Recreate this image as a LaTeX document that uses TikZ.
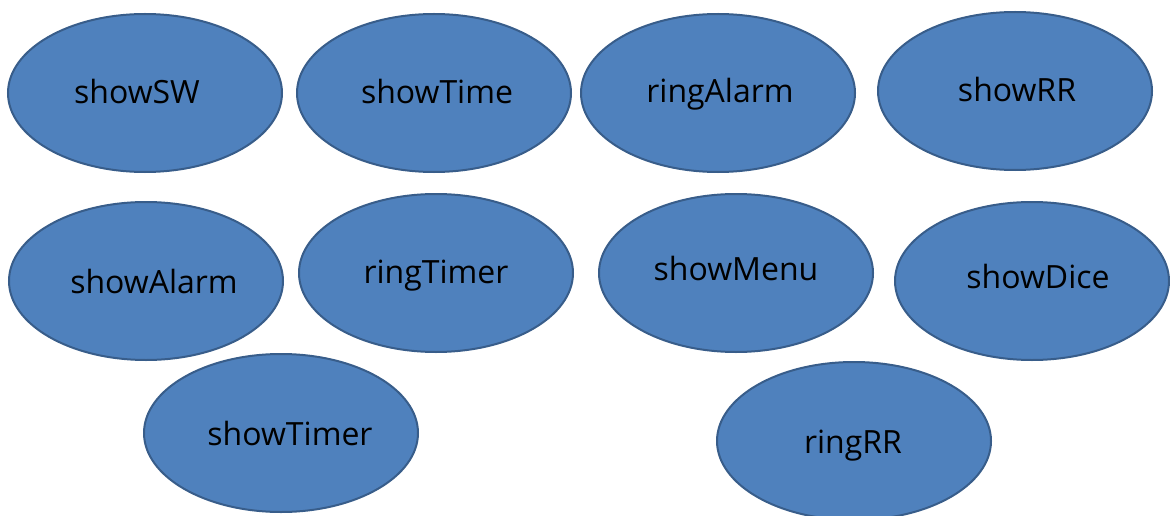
\documentclass[tikz,border=0pt]{standalone}
\usepackage{fontspec}
\setmainfont{Open Sans}
\usepackage{xcolor}
\usepackage{tikz}
\usetikzlibrary{shapes.geometric}
\definecolor{ovalfill}{HTML}{4F81BD}
\definecolor{ovaledge}{HTML}{385D8A}

\begin{document}
\begin{tikzpicture}[x=1pt, y=-1pt,
    usecase/.style={ellipse, draw=ovaledge, fill=ovalfill, line width=2pt,
        minimum width=274pt, minimum height=158pt, inner sep=0pt},
    caption/.style={font=\fontsize{32}{38}\selectfont, text=black, inner sep=0pt, anchor=base}]
    \useasboundingbox (0,0) rectangle (1170,516);
    % ovals: centre x/y, text x/baseline, name
    \foreach \x/\y/\tx/\ty/\n in {145/93/137/104/showSW, 434/93/437/104/showTime,
        718/93/720/103/ringAlarm, 1015/91/1017/102/showRR,
        146/281/154/293/showAlarm, 436/273/436/283/ringTimer,
        736/273/736/280/showMenu, 1032/281/1038/288/showDice,
        281/433/290/445/showTimer, 854/441/853/453/ringRR}{
        \node[usecase] (\n) at (\x,\y) {};
        \node[caption] (\n-txt) at (\tx,\ty) {\n};
    }
\end{tikzpicture}
\end{document}
